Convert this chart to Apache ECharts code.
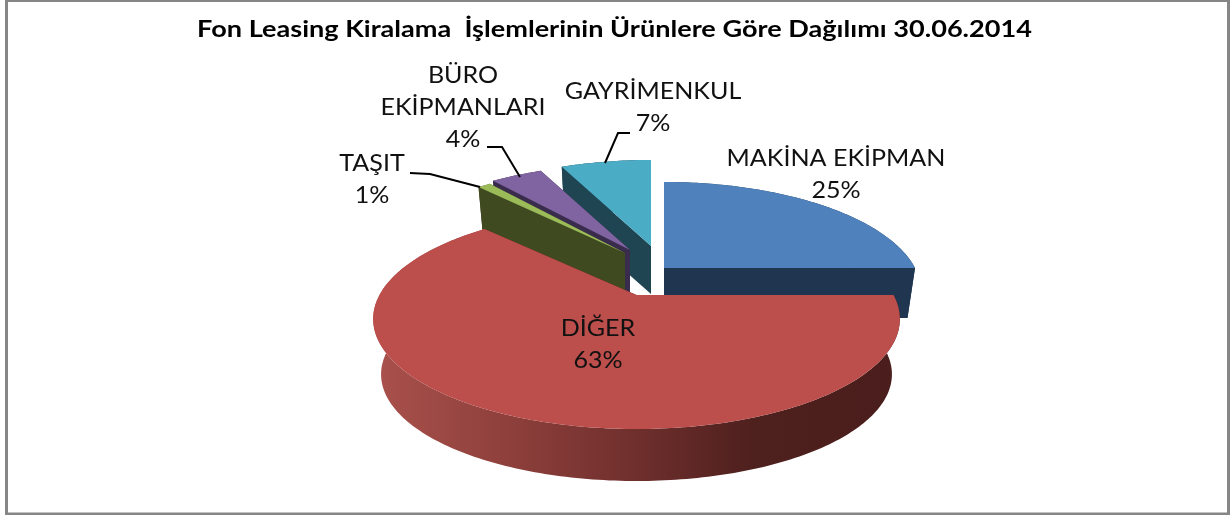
<!DOCTYPE html>
<html>
<head>
<meta charset="utf-8">
<style>
    html, body { margin: 0; padding: 0; background: #fff; }
    #pie_chart { width: 1232px; height: 515px; }
</style>
<script src="https://cdn.jsdelivr.net/npm/echarts@6/dist/echarts.min.js"></script>
</head>
<body>
<div id="pie_chart"></div>
<script>
    var chartTitle = 'Fon Leasing Kiralama  İşlemlerinin Ürünlere Göre Dağılımı 30.06.2014';
    // clockwise from 12 o'clock
    var categories = ['MAKİNA EKİPMAN', 'DİĞER', 'TAŞIT', 'BÜRO\nEKİPMANLARI', 'GAYRİMENKUL'];
    var values = [25, 63, 1, 4, 7];

    var topColors = ['#4F81BD', '#BC4E4B', '#9BBB59', '#8064A2', '#4BACC6'];
    var sideColors = ['#1F3550', '#4B1F1D', '#3F4A21', '#3A2C4C', '#1E4551'];

    // exploded slice origin on screen, depth of the extrusion and paint order
    var sliceCx = [664, 636.5, 625, 630, 651];
    var sliceCy = [268, 295, 253, 250, 246];
    var sliceRx = [251, 257, 248, 251, 251];
    var sliceDepth = [50, 56, 46, 46, 48];
    var sliceZ = [5, 6, 4, 3, 2];

    // label centres and leader lines
    var labelX = [836, 598, 372, 463, 653];
    var labelY = [175, 345, 180, 108, 108];
    var leaders = [
        null,
        null,
        [[410, 173], [430, 174], [480, 187]],
        [[487, 147], [502, 147], [520, 177]],
        [[630, 133], [618, 133], [605, 163]]
    ];

    var RY = 104.8;   // vertical radius of the tilted disc
    var K = 0.218;    // perspective strength
    var SHRINK = 0.03; // bottom face is a little smaller than the top one

    var total = values.reduce(function (a, b) { return a + b; }, 0);

    function project(i, deg, r, z) {
        var a = deg * Math.PI / 180;
        var u = Math.sin(a) * r;
        var v = -Math.cos(a) * r;
        var w = 1 - K * v;
        var s = 1 - SHRINK * z;
        return [
            sliceCx[i] + s * sliceRx[i] * u / w,
            sliceCy[i] + z * sliceDepth[i] + s * RY * v / w
        ];
    }

    function arc(i, from, to, z) {
        var pts = [];
        var n = Math.max(2, Math.ceil(to - from));
        for (var k = 0; k <= n; k++) {
            pts.push(project(i, from + (to - from) * k / n, 1, z));
        }
        return pts;
    }

    function renderItem(params, api) {
        var i = params.dataIndex;
        var before = 0;
        for (var j = 0; j < i; j++) {
            before += values[j];
        }
        var from = before / total * 360;
        var to = (before + api.value(0)) / total * 360;
        var z2 = sliceZ[i] * 10;

        var sideFill = sideColors[i];
        if (i === 1) {
            sideFill = new echarts.graphic.LinearGradient(0, 0, 1, 0, [
                { offset: 0, color: '#AA514C' },
                { offset: 0.25, color: '#8F403C' },
                { offset: 0.5, color: '#6F2F2D' },
                { offset: 0.72, color: '#4E201E' },
                { offset: 1, color: '#4A1E1C' }
            ]);
        }

        var apexTop = project(i, 0, 0, 0);
        var apexBottom = project(i, 0, 0, 1);
        var children = [
            { type: 'polygon', z2: z2, shape: { points: [apexTop, project(i, from, 1, 0), project(i, from, 1, 1), apexBottom] }, style: { fill: sideColors[i] } },
            { type: 'polygon', z2: z2, shape: { points: [apexTop, project(i, to, 1, 0), project(i, to, 1, 1), apexBottom] }, style: { fill: sideColors[i] } },
            { type: 'polygon', z2: z2 + 1, shape: { points: arc(i, from, to, 0).concat(arc(i, from, to, 1).reverse()) }, style: { fill: sideFill } },
            { type: 'polygon', z2: z2 + 2, shape: { points: [apexTop].concat(arc(i, from, to, 0)) }, style: { fill: topColors[i] } },
            {
                type: 'text',
                z2: 100,
                x: labelX[i],
                y: labelY[i],
                scaleX: 1.09,
                style: {
                    text: categories[i] + '\n' + api.value(0) + '%',
                    align: 'center',
                    verticalAlign: 'middle',
                    fontFamily: 'Lato',
                    fontSize: 23,
                    lineHeight: 32,
                    fill: '#111'
                }
            }
        ];
        if (leaders[i]) {
            children.push({
                type: 'polyline',
                z2: 100,
                shape: { points: leaders[i] },
                style: { fill: 'none', stroke: '#000', lineWidth: 2 }
            });
        }
        return { type: 'group', children: children };
    }

    var option = {
        animation: false,
        backgroundColor: '#fff',
        graphic: [{
            type: 'rect',
            shape: { x: 6.5, y: 0.5, width: 1222, height: 513.5 },
            style: { fill: 'none', stroke: '#868686', lineWidth: 3 },
            silent: true
        }, {
            type: 'text',
            x: 614.5,
            y: 30,
            scaleX: 1.178,
            style: {
                text: chartTitle,
                align: 'center',
                verticalAlign: 'middle',
                fontFamily: 'Lato',
                fontWeight: 'bold',
                fontSize: 23,
                fill: '#000'
            },
            silent: true
        }],
        series: [{
            type: 'custom',
            coordinateSystem: 'none',
            silent: true,
            renderItem: renderItem,
            data: values.map(function (v) { return [v]; })
        }]
    };

    var pie_chart = echarts.init(document.getElementById('pie_chart'));
    pie_chart.setOption(option);
</script>
</body>
</html>
